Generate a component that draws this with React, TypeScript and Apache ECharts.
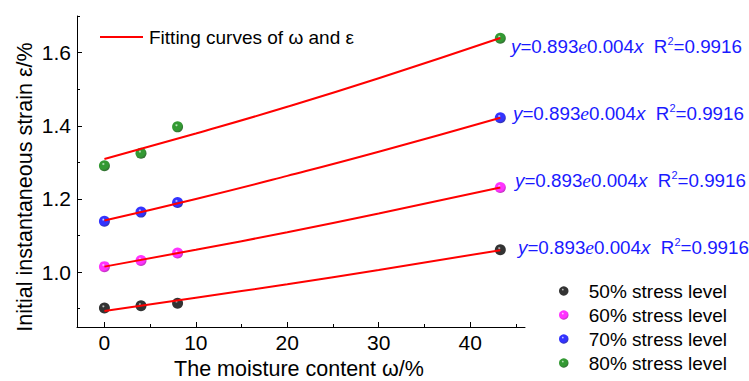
import React, { useEffect, useRef } from "react";
import * as echarts from "echarts";

const xValues = [0, 4, 8, 43.3];
const s50 = [0.902, 0.908, 0.915, 1.061];
const s60 = [1.015, 1.032, 1.052, 1.231];
const s70 = [1.139, 1.164, 1.19, 1.422];
const s80 = [1.291, 1.325, 1.397, 1.639];

const fitX = [0, 10, 20, 30, 43.3];
const fit50 = [0.894, 0.93, 0.967, 1.006, 1.06];
const fit60 = [1.015, 1.061, 1.109, 1.16, 1.231];
const fit70 = [1.141, 1.2, 1.263, 1.329, 1.422];
const fit80 = [1.309, 1.379, 1.452, 1.53, 1.64];

const stressNames = ["50% stress level", "60% stress level", "70% stress level", "80% stress level"];
const stressColors = ["#000000", "#ff00ff", "#0000ff", "#008000"];
const stressDark = ["#000000", "#b000b0", "#0000a0", "#004800"];
const stressHi = ["#d0d0d0", "#ffe0ff", "#e0e0ff", "#d0f0d0"];

const xMajor = [0, 10, 20, 30, 40];
const xMinor = [5, 15, 25, 35, 45];
const yMajor = [1.0, 1.2, 1.4, 1.6];
const yMinor = [0.9, 1.1, 1.3, 1.5, 1.7];

const fitName = "Fitting curves of ω and ε";
const annotA = "0.893";
const annotB = "0.004";
const annotR = "0.9916";

const FONT = "'Liberation Sans', Arial, sans-serif";

export default function App() {
  const ref = useRef<HTMLDivElement>(null);
  useEffect(() => {
    if (!ref.current) return;
    const chart = echarts.init(ref.current, null, { renderer: "svg" });
    const stressData = [s50, s60, s70, s80];
    const fitData = [fit50, fit60, fit70, fit80];

    const sphere = (i: number) => ({
      type: "radial",
      x: 0.4,
      y: 0.35,
      r: 0.65,
      colorStops: [
        { offset: 0, color: stressHi[i] },
        { offset: 0.22, color: stressColors[i] },
        { offset: 0.7, color: stressColors[i] },
        { offset: 1, color: stressDark[i] },
      ],
    });

    const scatterSeries = stressData.map((vals, i) => ({
      name: stressNames[i],
      type: "scatter",
      symbol: "circle",
      symbolSize: 11,
      z: 2,
      itemStyle: { color: sphere(i) },
      data: xValues.map((x, j) => [x, vals[j]]),
    }));

    const lineSeries = fitData.map((vals) => ({
      name: fitName,
      type: "line",
      smooth: true,
      symbol: "none",
      z: 3,
      lineStyle: { color: "#ff0000", width: 2 },
      itemStyle: { color: "#ff0000" },
      data: fitX.map((x, j) => [x, vals[j]]),
    }));

    const annotPos = [
      { x: 511, y: 46 },
      { x: 513, y: 113 },
      { x: 515, y: 180 },
      { x: 518, y: 247 },
    ];
    const blue = "#1a1aff";
    const annotations = annotPos.map((p) => ({
      type: "text",
      x: p.x,
      y: p.y,
      z: 10,
      style: {
        text: `{i|y}{n|=${annotA}}{e|e}{n|${annotB}}{i|x}{n|  R}{s|2}{n|=${annotR}}`,
        align: "left",
        verticalAlign: "middle",
        fill: blue,
        rich: {
          n: { fontFamily: FONT, fontSize: 18.8, fill: blue },
          i: { fontFamily: FONT, fontSize: 18.8, fontStyle: "italic", fill: blue },
          e: { fontFamily: "'Liberation Serif', serif", fontSize: 19.5, fontStyle: "italic", fill: blue },
          s: { fontFamily: FONT, fontSize: 11, fill: blue, padding: [0, 0, 10, 0] },
        },
      },
    }));

    const axisCommon = {
      type: "value",
      splitLine: { show: false },
    };

    chart.setOption({
      animation: false,
      grid: { left: 77, right: 224, top: 16, bottom: 54, containLabel: false, outerBoundsMode: "none" },
      xAxis: [
        {
          ...axisCommon,
          position: "bottom",
          min: -3,
          max: 46,
          axisLine: { show: true, onZero: false, lineStyle: { color: "#000", width: 1 } },
          axisTick: { show: true, inside: true, length: 5, customValues: xMajor, lineStyle: { color: "#000" } },
          axisLabel: { customValues: xMajor, color: "#000", fontSize: 21, fontFamily: FONT, margin: 5 },
        },
        {
          ...axisCommon,
          position: "bottom",
          offset: 0,
          min: -3,
          max: 46,
          axisLine: { show: false, onZero: false },
          axisTick: { show: true, inside: true, length: 3, customValues: xMinor, lineStyle: { color: "#000" } },
          axisLabel: { show: false },
        },
      ],
      yAxis: [
        {
          ...axisCommon,
          position: "left",
          min: 0.85,
          max: 1.7,
          axisLine: { show: true, onZero: false, lineStyle: { color: "#000", width: 1 } },
          axisTick: { show: true, inside: true, length: 5, customValues: yMajor, lineStyle: { color: "#000" } },
          axisLabel: {
            customValues: yMajor,
            color: "#000",
            fontSize: 21,
            fontFamily: FONT,
            margin: 6,
            formatter: (v: number) => v.toFixed(1),
          },
        },
        {
          ...axisCommon,
          position: "left",
          offset: 0,
          min: 0.85,
          max: 1.7,
          axisLine: { show: false, onZero: false },
          axisTick: { show: true, inside: true, length: 3, customValues: yMinor, lineStyle: { color: "#000" } },
          axisLabel: { show: false },
        },
      ],
      legend: [
        {
          data: [fitName],
          left: 100,
          top: 26,
          padding: 0,
          icon: "rect",
          itemWidth: 43,
          itemHeight: 2,
          itemGap: 0,
          selectedMode: false,
          textStyle: { fontSize: 19, fontFamily: FONT, color: "#000", lineHeight: 22, padding: [0, 0, 0, 1] },
        },
        {
          data: stressNames,
          orient: "vertical",
          left: 559,
          top: 281,
          height: 100,
          padding: 0,
          itemWidth: 40,
          itemHeight: 9.5,
          itemGap: 4,
          icon: "circle",
          selectedMode: false,
          textStyle: { fontSize: 19, fontFamily: FONT, color: "#000", lineHeight: 20 },
        },
      ],
      graphic: [
        {
          type: "text",
          x: 299,
          y: 369,
          style: {
            text: "The moisture content ω/%",
            fontSize: 21.5,
            fontFamily: FONT,
            fill: "#000",
            align: "center",
            verticalAlign: "middle",
          },
        },
        {
          type: "text",
          x: 25,
          y: 187,
          rotation: Math.PI / 2,
          style: {
            text: "Initial instantaneous strain ε/%",
            fontSize: 21.5,
            fontFamily: FONT,
            fill: "#000",
            align: "center",
            verticalAlign: "middle",
          },
        },
        ...annotations,
      ],
      series: [...scatterSeries, ...lineSeries],
    });
    return () => chart.dispose();
  }, []);
  return <div ref={ref} style={{ width: 749, height: 381, position: "absolute", left: 0, top: 0 }} />;
}
